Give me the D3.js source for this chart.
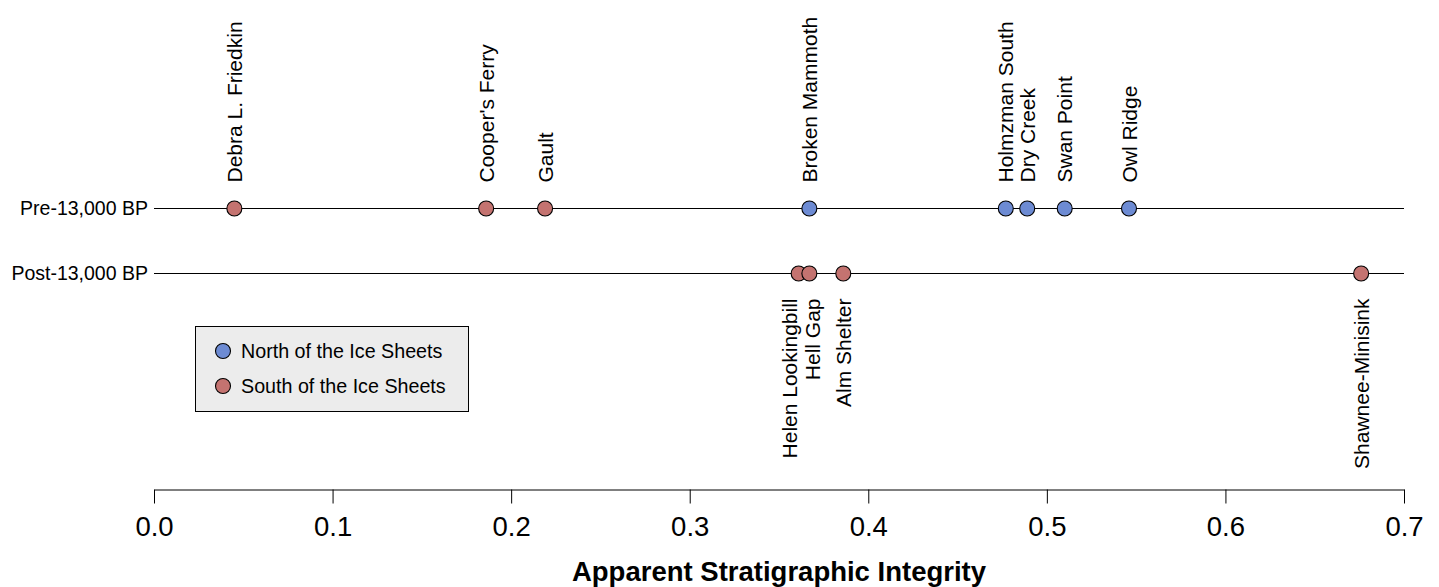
<!DOCTYPE html>
<html>
<head>
<meta charset="utf-8">
<script src="https://cdn.jsdelivr.net/npm/d3@7"></script>
<style>
  body { margin: 0; background: #fff; }
  text { font-family: "Liberation Sans", Arial, sans-serif; fill: #000; }
</style>
</head>
<body>
<svg id="chart" width="1439" height="587"></svg>
<script>
// sites, row they belong to, region, value
const sites = ["Debra L. Friedkin", "Cooper's Ferry", "Gault", "Broken Mammoth", "Holmzman South", "Dry Creek", "Swan Point", "Owl Ridge",
  "Helen Lookingbill", "Hell Gap", "Alm Shelter", "Shawnee-Minisink"];
const periods = ["Pre", "Pre", "Pre", "Pre", "Pre", "Pre", "Pre", "Pre", "Post", "Post", "Post", "Post"];
const regions = ["South", "South", "South", "North", "North", "North", "North", "North", "South", "South", "South", "South"];
const integrity = [0.045, 0.186, 0.219, 0.367, 0.477, 0.489, 0.510, 0.546, 0.361, 0.367, 0.386, 0.676];

const rowNames = ["Pre", "Post"];
const rowLabels = ["Pre-13,000 BP", "Post-13,000 BP"];
const legendLabels = ["North of the Ice Sheets", "South of the Ice Sheets"];
const xTicks = [0, 0.1, 0.2, 0.3, 0.4, 0.5, 0.6, 0.7];

// label spreading for crowded points (pixels)
const labelNudge = { "Helen Lookingbill": -9, "Hell Gap": 3 };

const colour = { North: "#6d8bd3", South: "#c47370" };

const svg = d3.select("#chart");

const x = d3.scaleLinear().domain([0, 0.7]).range([154, 1404]);
const y = d3.scalePoint().domain(rowNames).range([208.5, 273.5]);

const data = sites.map((s, i) => ({ name: s, period: periods[i], region: regions[i], v: integrity[i] }));

// row lines
svg.selectAll("line.row")
  .data(rowNames)
  .join("line")
  .attr("x1", x(0)).attr("x2", x(0.7))
  .attr("y1", d => y(d)).attr("y2", d => y(d))
  .attr("stroke", "#000").attr("stroke-width", 1);

svg.selectAll("text.rowlab")
  .data(rowNames)
  .join("text")
  .attr("x", 148)
  .attr("y", d => y(d))
  .attr("dy", "0.35em")
  .attr("text-anchor", "end")
  .style("font-size", "19.5px")
  .text((d, i) => rowLabels[i]);

// points
svg.selectAll("circle.pt")
  .data(data)
  .join("circle")
  .attr("cx", d => x(d.v))
  .attr("cy", d => y(d.period))
  .attr("r", 7.5)
  .attr("fill", d => colour[d.region])
  .attr("stroke", "#000").attr("stroke-width", 1.1);

// site labels, rotated
svg.selectAll("text.site")
  .data(data)
  .join("text")
  .attr("transform", d => {
    const px = x(d.v) + (labelNudge[d.name] || 0);
    const py = d.period === "Pre" ? y(d.period) - 26 : y(d.period) + 25;
    return `translate(${px},${py}) rotate(-90)`;
  })
  .attr("dy", "0.36em")
  .attr("text-anchor", d => d.period === "Pre" ? "start" : "end")
  .style("font-size", "21px")
  .text(d => d.name);

// x axis
const axis = svg.append("g")
  .attr("transform", "translate(0,489.5)")
  .call(d3.axisBottom(x).tickValues(xTicks).tickFormat(d3.format(".1f")).tickSize(14).tickSizeOuter(0).tickPadding(13));
axis.select(".domain").attr("stroke", "#000");
axis.selectAll(".tick line").attr("stroke", "#000");
axis.selectAll(".tick text")
  .style("font-family", "'Liberation Sans', Arial, sans-serif")
  .style("font-size", "27.5px")
  .attr("fill", "#000");

svg.append("text")
  .attr("x", x(0.35))
  .attr("y", 581)
  .attr("text-anchor", "middle")
  .style("font-size", "27.5px")
  .style("font-weight", "bold")
  .text("Apparent Stratigraphic Integrity");

// legend
const leg = svg.append("g");
leg.append("rect")
  .attr("x", 195.5).attr("y", 326.5)
  .attr("width", 273).attr("height", 85)
  .attr("fill", "#ececec").attr("stroke", "#000");
const legItems = leg.selectAll("g.item")
  .data(["North", "South"])
  .join("g")
  .attr("transform", (d, i) => `translate(223,${351 + i * 35})`);
legItems.append("circle")
  .attr("r", 7.5)
  .attr("fill", d => colour[d])
  .attr("stroke", "#000").attr("stroke-width", 1.1);
legItems.append("text")
  .attr("x", 18)
  .attr("dy", "0.35em")
  .style("font-size", "19.7px")
  .text((d, i) => legendLabels[i]);
</script>
</body>
</html>
